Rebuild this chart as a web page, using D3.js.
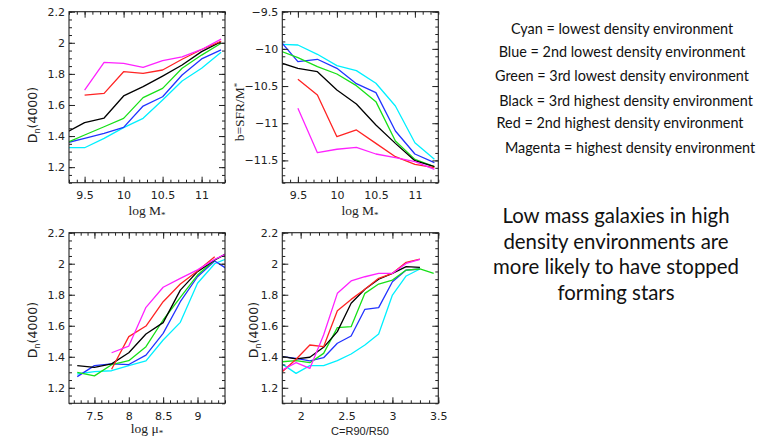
<!DOCTYPE html>
<html>
<head>
<meta charset="utf-8">
<script src="https://cdn.jsdelivr.net/npm/d3@7"></script>
<style>
  body { margin: 0; background: #fff; }
</style>
</head>
<body>
<div id="chart"></div>
<script>
// colours, one per environment (lowest -> highest density)
var envColors = ["#00f0ff", "#2233ff", "#18e018", "#000000", "#ff2424", "#ff22ff"];

var legendLines = [
  "Cyan = lowest density environment",
  "Blue = 2nd lowest density environment",
  "Green = 3rd lowest density environment",
  "Black = 3rd highest density environment",
  "Red = 2nd highest density environment",
  "Magenta = highest density environment"
];
var summaryLines = [
  "Low mass galaxies in high",
  "density environments are",
  "more likely to have stopped",
  "forming stars"
];

// top-left / top-right: stellar mass bins
var massBins = [9.25, 9.5, 9.75, 10, 10.25, 10.5, 10.75, 11, 11.25];
var dnByMass = [
  [1.325, 1.325, 1.385, 1.454, 1.514, 1.632, 1.754, 1.836, 1.939],
  [1.354, 1.385, 1.417, 1.456, 1.593, 1.653, 1.793, 1.896, 1.954],
  [1.353, 1.407, 1.46, 1.514, 1.647, 1.707, 1.836, 1.921, 1.997],
  [1.42, 1.486, 1.516, 1.658, 1.718, 1.786, 1.857, 1.943, 2.007],
  [null, 1.664, 1.675, 1.814, 1.803, 1.825, 1.894, 1.957, 2.01],
  [null, 1.696, 1.874, 1.868, 1.842, 1.885, 1.91, 1.957, 2.024]
];
var ssfrByMass = [
  [-9.937, -9.948, -10.073, -10.226, -10.293, -10.463, -10.768, -11.262, -11.486],
  [-9.864, -10.172, -10.14, -10.262, -10.468, -10.589, -11.105, -11.414, -11.531],
  [-10.018, -10.118, -10.238, -10.338, -10.495, -10.71, -11.239, -11.486, -11.584],
  [-10.177, -10.262, -10.307, -10.553, -10.741, -11.024, -11.271, -11.504, -11.584],
  [null, -10.41, -10.62, -11.181, -11.09, -11.271, -11.45, -11.553, -11.598],
  [null, -10.8, -11.396, -11.35, -11.325, -11.414, -11.463, -11.517, -11.62]
];

// bottom-left: surface mass density bins
var muBins = [7.25, 7.5, 7.75, 8, 8.25, 8.5, 8.75, 9, 9.25, 9.5];
var dnByMu = [
  [1.289, 1.304, 1.31, 1.343, 1.373, 1.508, 1.622, 1.874, 2.0, 2.047],
  [1.272, 1.343, 1.354, 1.35, 1.411, 1.551, 1.755, 1.916, 2.018, 1.946],
  [1.3, 1.277, 1.349, 1.375, 1.465, 1.637, 1.783, 1.927, 2.024, 2.079],
  [1.343, 1.332, 1.354, 1.426, 1.547, 1.62, 1.83, 1.949, 2.024, 2.086],
  [null, null, 1.32, 1.53, 1.598, 1.755, 1.869, 1.953, 2.045, null],
  [null, null, 1.426, 1.469, 1.719, 1.848, 1.905, 1.96, 2.028, 2.081]
];

// bottom-right: concentration bins
var concBins = [1.8, 1.95, 2.1, 2.25, 2.4, 2.55, 2.7, 2.85, 3.0, 3.15, 3.3, 3.45];
var dnByConc = [
  [1.353, 1.293, 1.343, 1.343, 1.375, 1.418, 1.476, 1.547, 1.798, 1.921, 1.966, null],
  [1.401, 1.39, 1.373, 1.394, 1.487, 1.534, 1.706, 1.717, 1.884, 1.959, 1.966, null],
  [1.368, 1.375, 1.362, 1.422, 1.588, 1.594, 1.809, 1.869, 1.895, 1.959, 1.966, 1.938],
  [1.401, 1.386, 1.397, 1.461, 1.562, 1.745, 1.835, 1.9, 1.938, 1.981, 1.977, null],
  [1.304, 1.384, 1.476, 1.465, 1.697, 1.77, 1.835, 1.906, 1.938, 2.009, 2.03, null],
  [1.315, 1.362, 1.325, 1.54, 1.809, 1.889, 1.916, 1.938, 1.938, 2.002, 2.028, null]
];

var dnTicks = [1.2, 1.4, 1.6, 1.8, 2, 2.2];
var ssfrTicks = [-11.5, -11, -10.5, -10, -9.5];
var massTicks = [9.5, 10, 10.5, 11];
var muTicks = [7.5, 8, 8.5, 9];
var concTicks = [2, 2.5, 3, 3.5];

var svg = d3.select('#chart').append('svg')
  .attr('width', 775)
  .attr('height', 439)
  .style('display', 'block');

var fmt = d3.format('~g');
var frameColor = '#222';

function drawPanel(id, box, xDom, yDom, xMajor, xMinor, yMajor, yMinor, bins, series) {
  var x = d3.scaleLinear().domain(xDom).range([box.x0, box.x1]);
  var y = d3.scaleLinear().domain(yDom).range([box.y1, box.y0]);

  var g = svg.append('g');

  svg.append('clipPath').attr('id', 'clip' + id)
    .append('rect')
    .attr('x', box.x0).attr('y', box.y0)
    .attr('width', box.x1 - box.x0).attr('height', box.y1 - box.y0);

  var line = d3.line()
    .defined(function(d) { return d[1] != null; })
    .x(function(d) { return x(d[0]); })
    .y(function(d) { return y(d[1]); });

  g.append('g').attr('clip-path', 'url(#clip' + id + ')')
    .selectAll('path').data(series)
    .enter().append('path')
    .attr('fill', 'none')
    .attr('stroke', function(d, i) { return envColors[i]; })
    .attr('stroke-width', 1.3)
    .attr('stroke-linejoin', 'round')
    .attr('d', function(d) {
      return line(d.map(function(v, j) { return [bins[j], v]; }));
    });

  // ticks on all four sides, pointing inward
  var sides = [
    { make: d3.axisBottom, scale: x, at: 'translate(0,' + box.y1 + ')', major: xMajor, minor: xMinor, labels: true },
    { make: d3.axisTop, scale: x, at: 'translate(0,' + box.y0 + ')', major: xMajor, minor: xMinor, labels: false },
    { make: d3.axisLeft, scale: y, at: 'translate(' + box.x0 + ',0)', major: yMajor, minor: yMinor, labels: true },
    { make: d3.axisRight, scale: y, at: 'translate(' + box.x1 + ',0)', major: yMajor, minor: yMinor, labels: false }
  ];
  sides.forEach(function(s) {
    var minorAx = s.make(s.scale).tickValues(s.minor).tickSize(-3).tickFormat('');
    var majorAx = s.make(s.scale).tickValues(s.major).tickSize(-6)
      .tickPadding(s.make === d3.axisBottom ? 9 : 4)
      .tickFormat(s.labels ? fmt : '');
    [minorAx, majorAx].forEach(function(ax) {
      var a = g.append('g').attr('transform', s.at).call(ax);
      a.select('.domain').remove();
      a.selectAll('line').attr('stroke', frameColor);
      a.selectAll('text')
        .attr('fill', frameColor)
        .style('font-family', 'DejaVu Sans')
        .style('font-size', '11px');
    });
  });

  g.append('rect')
    .attr('x', box.x0).attr('y', box.y0)
    .attr('width', box.x1 - box.x0).attr('height', box.y1 - box.y0)
    .attr('fill', 'none')
    .attr('stroke', frameColor)
    .attr('stroke-width', 1.1);

  return g;
}

function minorRange(lo, hi, step) {
  var out = [];
  var n = Math.round((hi - lo) / step);
  for (var i = 0; i <= n; i++) out.push(+(lo + i * step).toFixed(3));
  return out;
}

var rowTop = { y0: 11.7, y1: 182.7 }, rowBot = { y0: 232.7, y1: 403.3 };
var colLeft = { x0: 69, x1: 225 }, colRight = { x0: 282.3, x1: 438.3 };

drawPanel('a', { x0: colLeft.x0, x1: colLeft.x1, y0: rowTop.y0, y1: rowTop.y1 },
  [9.3, 11.3], [1.1, 2.2], massTicks, minorRange(9.3, 11.3, 0.1),
  dnTicks, minorRange(1.1, 2.2, 0.05), massBins, dnByMass);

drawPanel('b', { x0: colRight.x0, x1: colRight.x1, y0: rowTop.y0, y1: rowTop.y1 },
  [9.3, 11.3], [-11.8, -9.5], massTicks, minorRange(9.3, 11.3, 0.1),
  ssfrTicks, minorRange(-11.8, -9.5, 0.1), massBins, ssfrByMass);

drawPanel('c', { x0: colLeft.x0, x1: colLeft.x1, y0: rowBot.y0, y1: rowBot.y1 },
  [7.13, 9.4], [1.1, 2.2], muTicks, minorRange(7.2, 9.4, 0.1),
  dnTicks, minorRange(1.1, 2.2, 0.05), muBins, dnByMu);

drawPanel('d', { x0: colRight.x0, x1: colRight.x1, y0: rowBot.y0, y1: rowBot.y1 },
  [1.8, 3.5], [1.1, 2.2], concTicks, minorRange(1.8, 3.5, 0.1),
  dnTicks, minorRange(1.1, 2.2, 0.05), concBins, dnByConc);

// axis titles
function dnTitle(cx, cy) {
  var t = svg.append('text')
    .attr('transform', 'translate(' + cx + ',' + cy + ') rotate(-90)')
    .attr('text-anchor', 'middle')
    .attr('fill', frameColor)
    .style('font-family', 'DejaVu Sans')
    .style('font-size', '12.5px');
  t.append('tspan').text('D');
  t.append('tspan').attr('dy', 3).style('font-size', '8px').text('n');
  t.append('tspan').attr('dy', -3).text('(4000)');
}
dnTitle(37, 115);
dnTitle(37, 330);
dnTitle(258, 330);

function starTitle(cx, cy, base, sym, rotate) {
  var t = svg.append('text')
    .attr('transform', 'translate(' + cx + ',' + cy + ')' + (rotate ? ' rotate(-90)' : ''))
    .attr('text-anchor', 'middle')
    .attr('fill', frameColor)
    .style('font-family', 'Liberation Serif')
    .style('font-size', '13.5px');
  t.append('tspan').text(base);
  t.append('tspan').attr('dy', rotate ? -4 : 3).style('font-size', '9px').text(sym);
  return t;
}
starTitle(147, 215, 'log M', '*', false);
starTitle(360, 215, 'log M', '*', false);
starTitle(147, 433, 'log \u03bc', '*', false);
starTitle(244, 112, 'b=SFR/M', '*', true);

svg.append('text')
  .attr('x', 360).attr('y', 435)
  .attr('text-anchor', 'middle')
  .attr('fill', frameColor)
  .style('font-family', 'Liberation Sans')
  .style('font-size', '11px')
  .text('C=R90/R50');

// right-hand notes
var legendX = [622, 622, 622, 626, 620, 630];
var legendY = [34, 57, 81, 106, 128, 153];
svg.append('g').selectAll('text').data(legendLines)
  .enter().append('text')
  .attr('x', function(d, i) { return legendX[i]; })
  .attr('y', function(d, i) { return legendY[i]; })
  .attr('text-anchor', 'middle')
  .attr('fill', '#111')
  .style('font-family', 'Lato')
  .style('font-size', '14.4px')
  .text(function(d) { return d; });

svg.append('g').selectAll('text').data(summaryLines)
  .enter().append('text')
  .attr('x', 616)
  .attr('y', function(d, i) { return 223 + i * 25.5; })
  .attr('text-anchor', 'middle')
  .attr('fill', '#111')
  .style('font-family', 'Lato')
  .style('font-size', '20.4px')
  .text(function(d) { return d; });
</script>
</body>
</html>
